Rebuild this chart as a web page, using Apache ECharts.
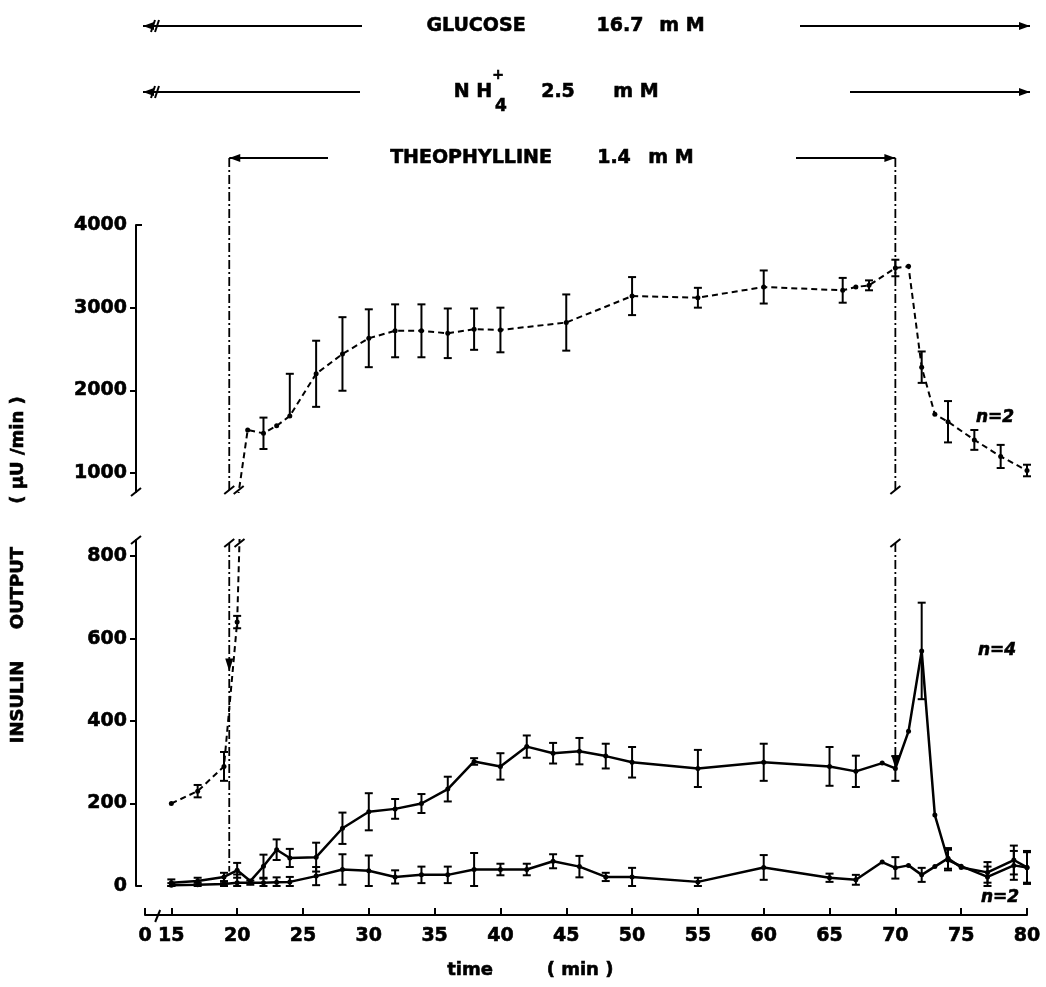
<!DOCTYPE html>
<html><head><meta charset="utf-8">
<script src="https://cdn.jsdelivr.net/npm/echarts@6/dist/echarts.min.js"></script>
<style>html,body{margin:0;padding:0;background:#fff}#c{width:1046px;height:987px}</style>
</head><body><div id="c"></div>
<script>
// ---------- axis ticks ----------
const xTickValues = [13, 15, 20, 25, 30, 35, 40, 45, 50, 55, 60, 65, 70, 75, 80];
const xTickLabels = ['0', '15', '20', '25', '30', '35', '40', '45', '50', '55', '60', '65', '70', '75', '80'];
const upperTicks = [1000, 2000, 3000, 4000];
const lowerTicks = [0, 200, 400, 600, 800];

// ---------- dashed series (n = 2, upper) ----------
const dashTime  = [15, 17, 19, 20, 20.8, 22, 23, 24, 26, 28, 30, 32, 34, 36, 38, 40, 45, 50, 55, 60, 66, 67, 68, 70, 71, 72, 73, 74, 76, 78, 80];
const dashMean  = [200, 230, 290, 640, 1520, 1480, 1570, 1690, 2200, 2440, 2630, 2720, 2720, 2690, 2740, 2730, 2820, 3140, 3120, 3250, 3210, 3250, 3270, 3480, 3500, 2280, 1710, 1620, 1400, 1200, 1030];
const dashErrUp = [0, 15, 35, 15, 0, 190, 0, 510, 400, 445, 350, 320, 320, 300, 250, 270, 340, 230, 120, 200, 150, 0, 60, 100, 0, 190, 0, 250, 120, 140, 70];
const dashErrDn = [0, 15, 35, 15, 0, 190, 0, 0, 400, 445, 350, 320, 320, 300, 250, 270, 340, 230, 120, 200, 150, 0, 60, 100, 0, 190, 0, 250, 120, 140, 70];

// ---------- solid series (n = 4) ----------
const n4Time = [15, 17, 19, 20, 21, 22, 23, 24, 26, 28, 30, 32, 34, 36, 38, 40, 42, 44, 46, 48, 50, 55, 60, 65, 67, 69, 70, 71, 72, 73, 74, 75, 77, 79, 80];
const n4Mean = [8, 12, 22, 38, 12, 48, 88, 68, 70, 140, 180, 187, 200, 235, 302, 290, 338, 322, 327, 315, 300, 285, 300, 290, 278, 298, 285, 375, 570, 172, 63, 48, 22, 50, 45];
const n4Err  = [8, 8, 10, 18, 0, 28, 25, 22, 35, 38, 45, 24, 23, 30, 8, 32, 27, 25, 32, 30, 37, 45, 45, 47, 38, 0, 30, 0, 117, 0, 25, 0, 25, 35, 40];

// ---------- solid series (n = 2, lower) ----------
const n2Time = [15, 17, 19, 20, 21, 22, 23, 24, 26, 28, 30, 32, 34, 36, 38, 40, 42, 44, 46, 48, 50, 55, 60, 65, 67, 69, 70, 71, 72, 73, 74, 75, 77, 79, 80];
const n2Mean = [2, 3, 5, 8, 8, 8, 9, 10, 24, 40, 37, 22, 27, 27, 40, 40, 40, 60, 47, 22, 22, 10, 45, 20, 15, 58, 44, 50, 27, 47, 67, 45, 33, 63, 45];
const n2Err  = [5, 5, 5, 20, 5, 10, 12, 12, 22, 37, 37, 16, 20, 20, 40, 14, 14, 17, 26, 10, 22, 10, 30, 10, 12, 0, 26, 0, 17, 0, 25, 0, 25, 35, 37];

// ---------- theophylline period ----------
const theoStart = 19.4, theoEnd = 70;

const F = '"DejaVu Sans", sans-serif';
const BLK = '#000';
const UP_MIN = 770, UP_MAX = 4000, LO_MIN = 0, LO_MAX = 839;

function pairs(t, m) { return t.map((x, i) => [x, m[i]]); }

function errSeries(gi, time, mean, up, dn, lo, hi) {
  const data = time.map((t, i) => [t, mean[i], up[i], dn[i]])
    .filter(d => d[1] >= lo && d[1] <= hi && (d[2] > 0 || d[3] > 0));
  return {
    type: 'custom', xAxisIndex: gi, yAxisIndex: gi, clip: false, silent: true, z: 3,
    encode: { x: 0, y: 1 }, data,
    renderItem: function (params, api) {
      const t = api.value(0), m = api.value(1), u = api.value(2), d = api.value(3);
      const a = api.coord([t, Math.min(m + u, hi)]), b = api.coord([t, Math.max(m - d, lo)]);
      const c = 4, st = { stroke: BLK, lineWidth: 2 };
      const ch = [{ type: 'line', shape: { x1: a[0], y1: a[1], x2: b[0], y2: b[1] }, style: st }];
      if (u > 0) ch.push({ type: 'line', shape: { x1: a[0] - c, y1: a[1], x2: a[0] + c, y2: a[1] }, style: st });
      if (d > 0) ch.push({ type: 'line', shape: { x1: b[0] - c, y1: b[1], x2: b[0] + c, y2: b[1] }, style: st });
      return { type: 'group', children: ch };
    }
  };
}

const axLabel = { color: BLK, fontFamily: F, fontWeight: 'bold', fontSize: 19,
  textBorderColor: BLK, textBorderWidth: 0.6 };

const option = {
  animation: false,
  backgroundColor: '#fff',
  grid: [
    { left: 145, right: 19, top: 225, height: 267 },
    { left: 145, right: 19, top: 540, height: 346 }
  ],
  xAxis: [
    { gridIndex: 0, type: 'value', min: 13, max: 80, show: false },
    {
      gridIndex: 1, type: 'value', min: 13, max: 80, position: 'bottom', offset: 29,
      axisLine: { show: true, onZero: false, lineStyle: { color: BLK, width: 2 } },
      axisTick: { show: true, inside: true, length: 7, customValues: xTickValues, lineStyle: { color: BLK, width: 2 } },
      axisLabel: Object.assign({ margin: 12, customValues: xTickValues,
        formatter: v => xTickLabels[xTickValues.indexOf(v)] }, axLabel),
      splitLine: { show: false }
    }
  ],
  yAxis: [
    {
      gridIndex: 0, type: 'value', min: UP_MIN, max: UP_MAX, offset: 9,
      axisLine: { show: true, onZero: false, lineStyle: { color: BLK, width: 2 } },
      axisTick: { show: true, length: 6, customValues: upperTicks.slice(0, 3), lineStyle: { color: BLK, width: 2 } },
      axisLabel: Object.assign({ margin: 9, customValues: upperTicks, formatter: v => String(v) }, axLabel),
      splitLine: { show: false }
    },
    {
      gridIndex: 1, type: 'value', min: LO_MIN, max: LO_MAX, offset: 9,
      axisLine: { show: true, onZero: false, lineStyle: { color: BLK, width: 2 } },
      axisTick: { show: true, length: 6, customValues: lowerTicks.slice(1), lineStyle: { color: BLK, width: 2 } },
      axisLabel: Object.assign({ margin: 9, customValues: lowerTicks, formatter: v => String(v) }, axLabel),
      splitLine: { show: false }
    }
  ],
  series: [
    { type: 'line', xAxisIndex: 0, yAxisIndex: 0, clip: true, data: pairs(dashTime, dashMean),
      symbol: 'circle', symbolSize: 5, itemStyle: { color: BLK },
      lineStyle: { color: BLK, width: 2, type: [6, 4] }, z: 4 },
    { type: 'line', xAxisIndex: 1, yAxisIndex: 1, clip: true, data: pairs(dashTime, dashMean),
      symbol: 'circle', symbolSize: 5, itemStyle: { color: BLK },
      lineStyle: { color: BLK, width: 2, type: [6, 4] }, z: 4 },
    { type: 'line', xAxisIndex: 1, yAxisIndex: 1, clip: true, data: pairs(n4Time, n4Mean),
      symbol: 'circle', symbolSize: 5, itemStyle: { color: BLK },
      lineStyle: { color: BLK, width: 2.5 }, z: 4 },
    { type: 'line', xAxisIndex: 1, yAxisIndex: 1, clip: true, data: pairs(n2Time, n2Mean),
      symbol: 'circle', symbolSize: 5, itemStyle: { color: BLK },
      lineStyle: { color: BLK, width: 2.5 }, z: 4 },
    errSeries(0, dashTime, dashMean, dashErrUp, dashErrDn, UP_MIN, UP_MAX),
    errSeries(1, dashTime, dashMean, dashErrUp, dashErrDn, LO_MIN, LO_MAX),
    errSeries(1, n4Time, n4Mean, n4Err, n4Err, LO_MIN, LO_MAX),
    errSeries(1, n2Time, n2Mean, n2Err, n2Err, LO_MIN, LO_MAX)
  ]
};

const chart = echarts.init(document.getElementById('c'), null, { renderer: 'canvas' });
chart.setOption(option);

// ---------- annotations (positions from the chart's own scales) ----------
const P0 = (t, v) => chart.convertToPixel({ gridIndex: 0 }, [t, v]);
const P1 = (t, v) => chart.convertToPixel({ gridIndex: 1 }, [t, v]);
const G = [];
function ln(x1, y1, x2, y2, w, dash) {
  G.push({ type: 'line', silent: true, z: 10, shape: { x1, y1, x2, y2 },
    style: { stroke: BLK, lineWidth: w || 2, lineDash: dash || null } });
}
function tri(pts) { G.push({ type: 'polygon', silent: true, z: 10, shape: { points: pts }, style: { fill: BLK } }); }
function txt(x, y, s, font, rot) {
  G.push({ type: 'text', silent: true, z: 10, x, y, rotation: rot || 0,
    style: { text: s, fill: BLK, stroke: BLK, lineWidth: 0.6, font: font || ('bold 19px ' + F),
      align: 'center', verticalAlign: 'middle', textAlign: 'center', textVerticalAlign: 'middle' } });
}
function arrowL(x, y) { tri([[x, y], [x + 11, y - 4], [x + 11, y + 4]]); }
function arrowR(x, y) { tri([[x, y], [x - 11, y - 4], [x - 11, y + 4]]); }
function arrowD(x, y) { tri([[x, y], [x - 4, y - 13], [x + 4, y - 13]]); }
function brk(x, y) { ln(x - 5, y + 4, x + 5, y - 4, 2); }

const x0 = P1(13, 0)[0] - 2, xEnd = P1(80, 0)[0] + 3;
const xS = P0(theoStart, UP_MAX)[0], xE = P0(theoEnd, UP_MAX)[0];
const DD = [9, 3, 2, 3];

// Row 1: GLUCOSE
const r1 = 26;
ln(x0, r1, 362, r1); arrowL(x0, r1); ln(x0 + 8, r1 + 6, x0 + 12, r1 - 6, 2); ln(x0 + 12, r1 + 6, x0 + 16, r1 - 6, 2);
ln(800, r1, xEnd, r1); arrowR(xEnd, r1);
txt(476, r1, 'GLUCOSE'); txt(620, r1, '16.7'); txt(682, r1, 'm M');
// Row 2: NH4+
const r2 = 92;
ln(x0, r2, 360, r2); arrowL(x0, r2); ln(x0 + 8, r2 + 6, x0 + 12, r2 - 6, 2); ln(x0 + 12, r2 + 6, x0 + 16, r2 - 6, 2);
ln(850, r2, xEnd, r2); arrowR(xEnd, r2);
txt(473, r2, 'N H'); txt(498, r2 - 17, '+', 'bold 14px ' + F); txt(501, r2 + 15, '4', 'bold 17px ' + F);
txt(558, r2, '2.5'); txt(636, r2, 'm M');
// Row 3: THEOPHYLLINE
const r3 = 158;
ln(xS, r3, 328, r3); arrowL(xS, r3);
ln(796, r3, xE, r3); arrowR(xE, r3);
txt(471, r3, 'THEOPHYLLINE'); txt(614, r3, '1.4'); txt(671, r3, 'm M');

// theophylline dash-dot markers
const upBot = P0(theoStart, UP_MIN)[1] - 2;
const loTop = P1(theoStart, LO_MAX)[1] + 3;
ln(xS, r3, xS, upBot, 1.8, DD); brk(xS, upBot);
ln(xE, r3, xE, upBot, 1.8, DD); brk(xE, upBot);
ln(xS, loTop, xS, P1(theoStart, 35)[1], 1.8, DD); brk(xS, loTop);
arrowD(xS, P1(theoStart, 520)[1]);
const endY = P1(theoEnd, n4Mean[n4Time.indexOf(theoEnd)])[1];
ln(xE, loTop, xE, endY - 10, 1.8, DD); brk(xE, loTop);
arrowD(xE, endY);

// break marks where the dashed series leaves / enters the panels
for (let i = 0; i < dashTime.length - 1; i++) {
  const a = dashMean[i], b = dashMean[i + 1];
  if (a < UP_MIN && b >= UP_MIN) {
    const t = dashTime[i] + (dashTime[i + 1] - dashTime[i]) * (UP_MIN - a) / (b - a);
    const p = P0(t, UP_MIN); brk(p[0], p[1] - 2);
  }
  if (a < LO_MAX && b >= LO_MAX) {
    const t = dashTime[i] + (dashTime[i + 1] - dashTime[i]) * (LO_MAX - a) / (b - a);
    const p = P1(t, LO_MAX); brk(p[0], p[1] + 3);
  }
}

// axis breaks
const yAx = 145 - 9;
brk(yAx, P0(13, UP_MIN)[1]);
brk(yAx, P1(13, LO_MAX)[1]);
ln(yAx, P0(13, UP_MAX)[1], yAx + 6, P0(13, UP_MAX)[1], 2);
ln(yAx, P1(13, 0)[1], yAx + 6, P1(13, 0)[1], 2);
const xAxY = P1(13, 0)[1] + 29;
ln(P1(14, 0)[0] - 3, xAxY + 7, P1(14, 0)[0] + 2, xAxY - 5, 2);

// titles and n labels
txt(18, 702, 'INSULIN', 'bold 18px ' + F, Math.PI / 2);
txt(18, 588, 'OUTPUT', 'bold 18px ' + F, Math.PI / 2);
txt(18, 450, '( µU /min )', 'bold 18px ' + F, Math.PI / 2);
txt(470, 970, 'time', 'bold 18px ' + F);
txt(580, 970, '( min )', 'bold 18px ' + F);
txt(995, 418, 'n=2', 'italic bold 17px ' + F);
txt(997, 651, 'n=4', 'italic bold 17px ' + F);
txt(1000, 898, 'n=2', 'italic bold 17px ' + F);

chart.setOption({ graphic: { elements: G } });
</script></body></html>
